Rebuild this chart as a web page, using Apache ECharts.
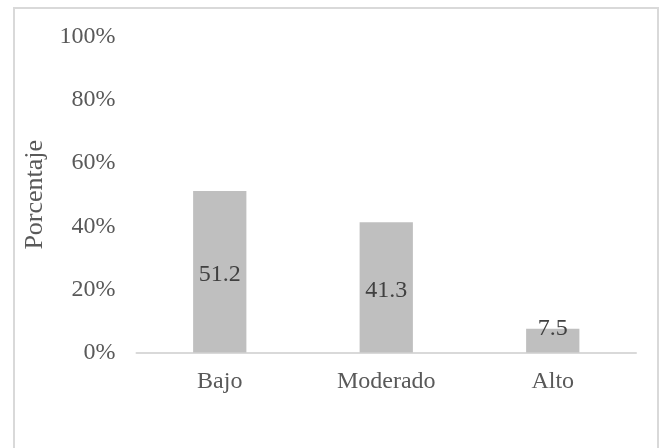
<!DOCTYPE html>
<html>
<head>
<meta charset="utf-8">
<script src="https://cdn.jsdelivr.net/npm/echarts@6/dist/echarts.min.js"></script>
<style>
  html, body { margin: 0; padding: 0; background: #fff; }
  #frame {
    position: absolute; left: 13px; top: 7px; width: 646px; height: 460px;
    border: 2px solid #d9d9d9; box-sizing: border-box;
  }
  #chart { position: absolute; left: 0; top: 0; width: 666px; height: 448px; }
</style>
</head>
<body>
<div id="frame"></div>
<div id="chart"></div>
<script>
// datos
const categories = ['Bajo', 'Moderado', 'Alto']
const values = [51.2, 41.3, 7.5]
const yTicks = [0, 20, 40, 60, 80, 100]

const font = '"Liberation Serif", "Times New Roman", serif'
const textColor = '#595959'

const chart = echarts.init(document.getElementById('chart'), null, { renderer: 'canvas' })

const seriesData = values.map((v, i) => {
  const item = { value: v }
  // la barra baja lleva la etiqueta encima del borde
  if (v < 15) {
    item.label = { position: 'top', distance: -9 }
  }
  return item
})

chart.setOption({
  animation: false,
  grid: {
    left: 136.5,
    right: 30,
    top: 37,
    bottom: 95.5,
    containLabel: false
  },
  xAxis: {
    type: 'category',
    data: categories,
    axisLine: { lineStyle: { color: '#d9d9d9', width: 2 } },
    axisTick: { show: false },
    axisLabel: {
      color: textColor,
      fontFamily: font,
      fontSize: 24,
      margin: 17
    }
  },
  yAxis: {
    type: 'value',
    min: yTicks[0],
    max: yTicks[yTicks.length - 1],
    interval: 20,
    name: 'Porcentaje',
    nameLocation: 'middle',
    nameGap: 80,
    nameTextStyle: {
      color: textColor,
      fontFamily: font,
      fontSize: 26
    },
    axisLine: { show: false },
    axisTick: { show: false },
    splitLine: { show: false },
    axisLabel: {
      color: textColor,
      fontFamily: font,
      fontSize: 24,
      margin: 21,
      formatter: '{value}%'
    }
  },
  series: [
    {
      type: 'bar',
      data: seriesData,
      barWidth: '32%',
      itemStyle: { color: '#bfbfbf' },
      label: {
        show: true,
        position: 'inside',
        offset: [0, 3],
        color: '#404040',
        fontFamily: font,
        fontSize: 24,
        formatter: p => p.value.toFixed(1)
      }
    }
  ]
})
</script>
</body>
</html>
